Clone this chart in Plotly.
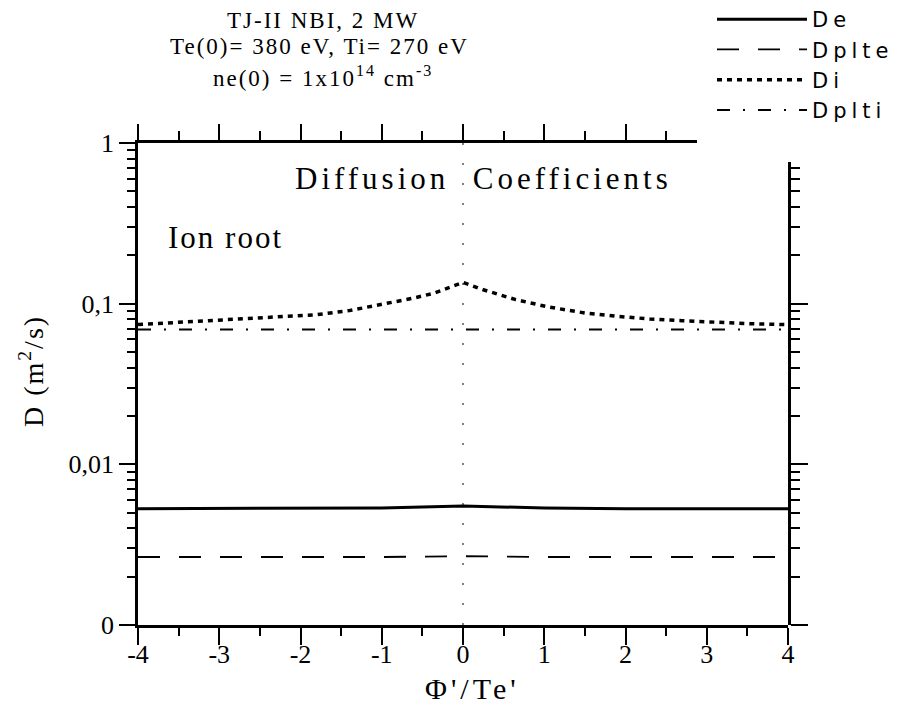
import plotly.graph_objects as go

# ---------------- data ----------------
x_flat = [-4, -2, -1, 0, 1, 2, 4]
De = [0.0053, 0.0053, 0.00535, 0.0055, 0.00535, 0.0053, 0.0053]
Dplte = [0.00265, 0.00265, 0.00265, 0.00268, 0.00265, 0.00265, 0.00265]
Dplti = [0.069, 0.069, 0.069, 0.069, 0.069, 0.069, 0.069]

x_Di = [-4, -3.25, -2.45, -1.8, -1.4, -1, -0.6, -0.35, -0.15, 0,
        0.25, 0.65, 1.05, 1.5, 1.9, 2.3, 2.7, 3.1, 3.5, 4]
Di = [0.0741, 0.0776, 0.0815, 0.0854, 0.0905, 0.0986, 0.1085, 0.1165, 0.128, 0.1356,
      0.122, 0.1059, 0.0954, 0.0875, 0.0834, 0.0803, 0.0784, 0.0765, 0.0751, 0.0741]

x_ticks = [-4, -3, -2, -1, 0, 1, 2, 3, 4]
x_ticktext = ["-4", "-3", "-2", "-1", "0", "1", "2", "3", "4"]
y_ticks = [0.001, 0.01, 0.1, 1]
y_ticktext = ["0", "0,01", "0,1", "1"]
y_minor = [m * d for d in (0.001, 0.01, 0.1) for m in range(2, 10)]
x_vline = [0, 0]
y_vline = [0.001, 1]

# ---------------- layout helpers (pixel -> paper) ----------------
L, R, T, B = 138, 788, 143, 625
W, H = 909, 718
def px(x):
    return (x - L) / (R - L)
def py(y):
    return (B - y) / (B - T)

SERIF = "Liberation Serif"
SANS = "DejaVu Sans"

def ls(text, sp):
    return '<span style="letter-spacing:%gpx">%s</span>' % (sp, text)

fig = go.Figure()

fig.add_trace(go.Scatter(x=x_vline, y=y_vline, mode="lines", showlegend=False,
                         line=dict(color="#555", width=1.5, dash="2px,18px"), hoverinfo="skip"))
fig.add_trace(go.Scatter(x=x_flat, y=De, mode="lines", name=ls("De", 5),
                         line=dict(color="black", width=3)))
fig.add_trace(go.Scatter(x=x_flat, y=Dplte, mode="lines", name=ls("Dplte", 5),
                         line=dict(color="black", width=1.8, dash="22px,19px")))
fig.add_trace(go.Scatter(x=x_Di, y=Di, mode="lines", name=ls("Di", 5),
                         line=dict(color="black", width=3.5, dash="5px,5px")))
fig.add_trace(go.Scatter(x=x_flat, y=Dplti, mode="lines", name=ls("Dplti", 5),
                         line=dict(color="black", width=2, dash="13px,13px,2px,13px")))
# helper traces for partial top / right frame axes
fig.add_trace(go.Scatter(x=[None], y=[None], xaxis="x2", yaxis="y", showlegend=False, hoverinfo="skip"))
fig.add_trace(go.Scatter(x=[None], y=[None], xaxis="x", yaxis="y2", showlegend=False, hoverinfo="skip"))

top_frac = (697 - L) / (R - L)
right_frac = (B - 162) / (B - T)

axis_common = dict(showline=True, linecolor="black", linewidth=2.5, showgrid=False,
                   zeroline=False, ticks="outside", tickcolor="black", tickwidth=2)

fig.update_layout(
    width=W, height=H, autosize=False,
    paper_bgcolor="white", plot_bgcolor="rgba(0,0,0,0)",
    margin=dict(l=L, r=W - R, t=T, b=H - B, autoexpand=False),
    xaxis=dict(range=[-4, 4], domain=[0, 1], tickvals=x_ticks, ticktext=x_ticktext,
               ticklen=17, ticklabelstandoff=-13,
               tickfont=dict(family=SERIF, size=26, color="black"),
               minor=dict(ticks="outside", dtick=0.5, ticklen=8, tickwidth=2, tickcolor="black"),
               **axis_common),
    yaxis=dict(type="log", range=[-3, 0], domain=[0, 1], tickvals=y_ticks, ticktext=y_ticktext,
               ticklen=16, tickfont=dict(family=SERIF, size=26, color="black"),
               minor=dict(ticks="outside", tickvals=y_minor, ticklen=8, tickwidth=2, tickcolor="black"),
               **axis_common),
    xaxis2=dict(range=[-4, -4 + 8 * top_frac], domain=[0, top_frac], anchor="y", side="top",
                tickvals=x_ticks, showticklabels=False, ticklen=16,
                minor=dict(ticks="outside", dtick=0.5, ticklen=9, tickwidth=2, tickcolor="black"),
                **axis_common),
    yaxis2=dict(type="log", range=[-3, -3 + 3 * right_frac],
                domain=[0, right_frac], anchor="x", side="right",
                tickvals=y_ticks, showticklabels=False, ticklen=17,
                minor=dict(ticks="outside", tickvals=y_minor, ticklen=9, tickwidth=2, tickcolor="black"),
                **axis_common),
    showlegend=True,
    legend=dict(x=px(712), y=py(-1), xanchor="left", yanchor="top",
                font=dict(family=SANS, size=21, color="black"),
                bgcolor="rgba(0,0,0,0)", itemwidth=90, tracegroupgap=0),
)

ann = [
    dict(text=ls("TJ-II NBI, 2 MW", 2), x=px(323), y=py(20), size=23),
    dict(text=ls("Te(0)= 380 eV, Ti= 270 eV", 2), x=px(319), y=py(46), size=23),
    dict(text=ls("ne(0) = 1x10<sup>14</sup> cm<sup>-3</sup>", 2), x=px(323), y=py(76), size=23),
    dict(text=ls("Diffusion  Coefficients", 4), x=px(483), y=py(179), size=31),
    dict(text=ls("Ion root", 2), x=px(225), y=py(237), size=31),
    dict(text=ls("Φ'/Te'", 4), x=px(472), y=py(688), size=30),
]
for a in ann:
    fig.add_annotation(text=a["text"], x=a["x"], y=a["y"], xref="paper", yref="paper",
                       xanchor="center", yanchor="middle", showarrow=False,
                       font=dict(family=SERIF, size=a["size"], color="black"))
fig.add_annotation(text=ls("D (m<sup>2</sup>/s)", 2), x=px(31), y=py(371), xref="paper", yref="paper",
                   xanchor="center", yanchor="middle", showarrow=False, textangle=-90,
                   font=dict(family=SERIF, size=28, color="black"))

fig.write_html("out.html")
